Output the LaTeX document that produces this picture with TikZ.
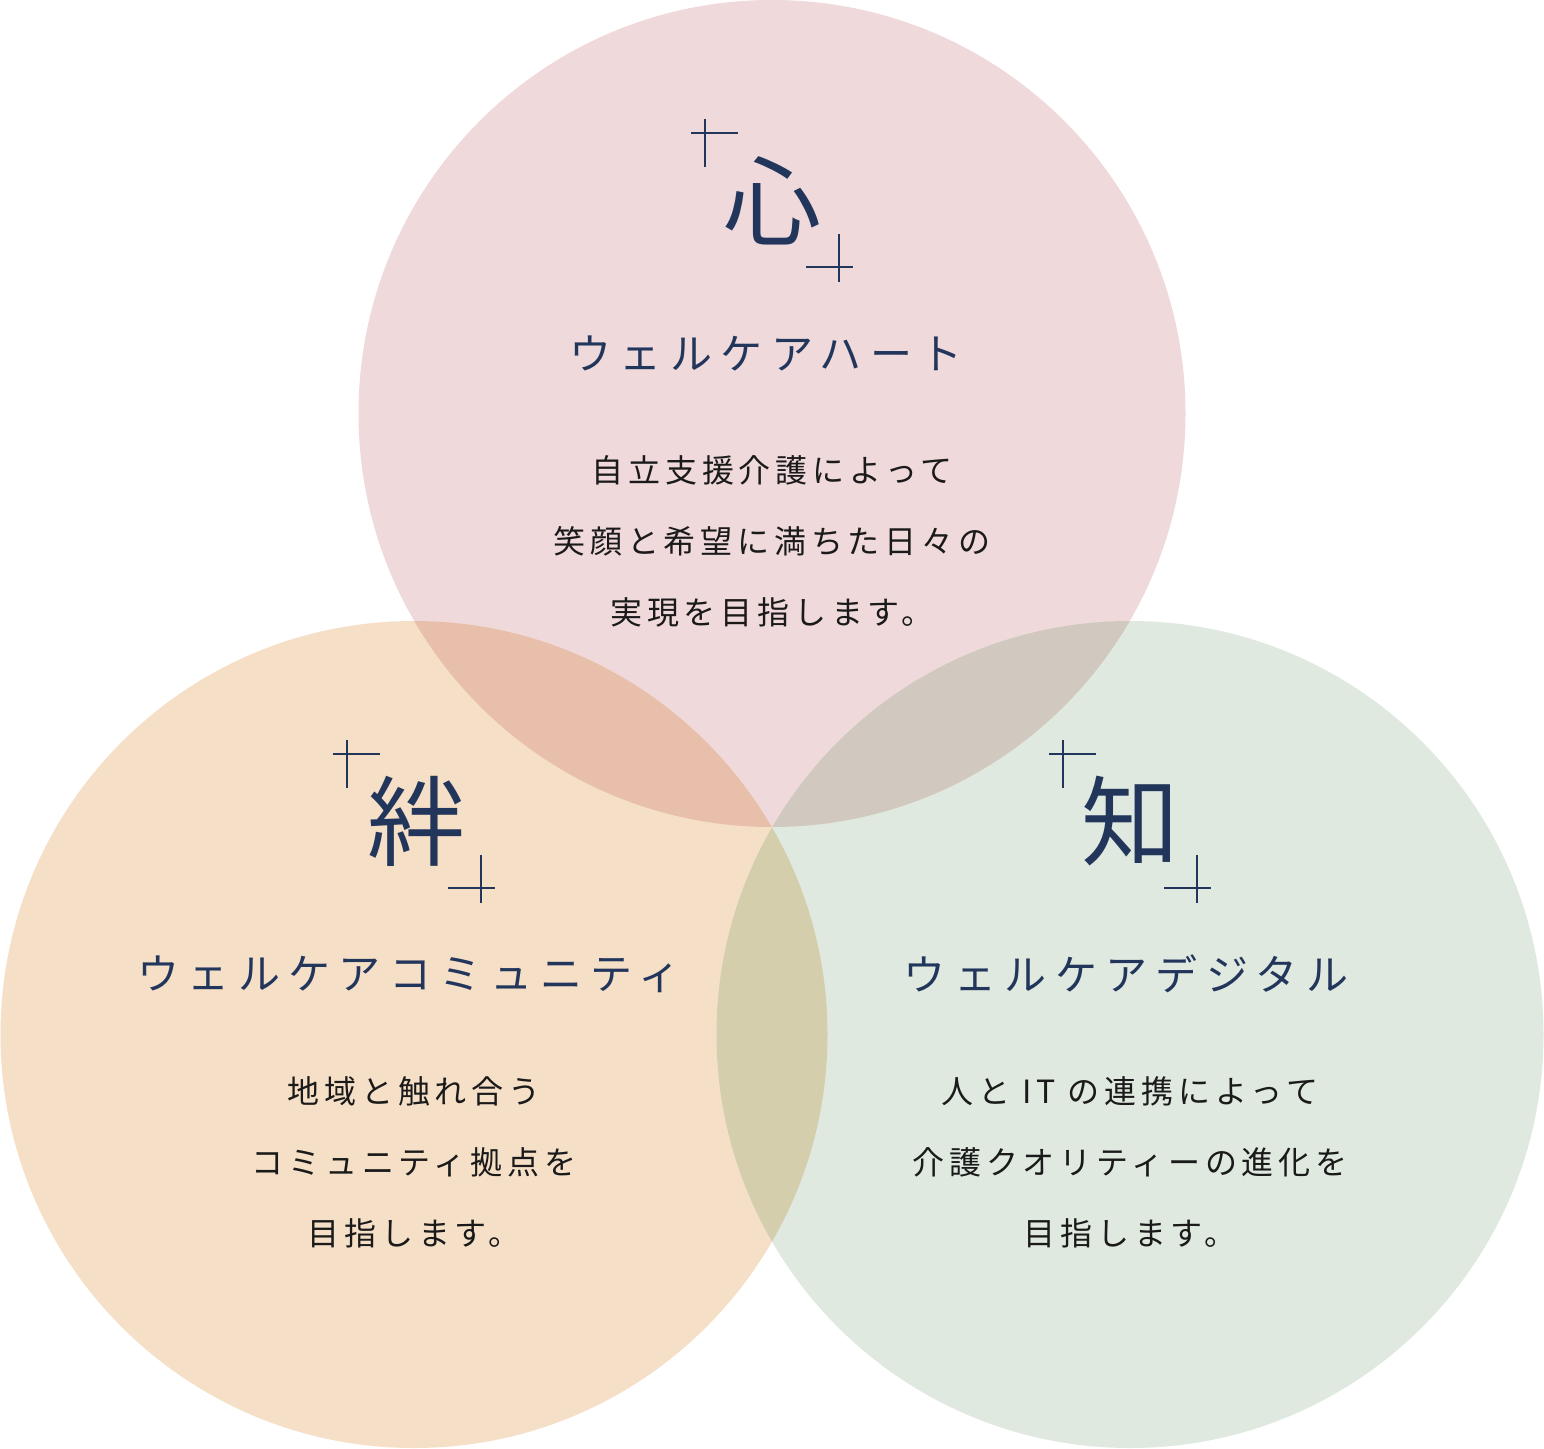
\documentclass[tikz,border=0pt]{standalone}
\usepackage{fontspec}
\newfontfamily\jpbody[LetterSpace=15]{Noto Sans CJK JP}
\newfontfamily\jptitle[LetterSpace=20]{Noto Sans CJK JP}
\newfontfamily\jpkanji{Noto Sans CJK JP}
\definecolor{pinkc}{HTML}{EFD9DB}
\definecolor{orangec}{HTML}{F6DFC7}
\definecolor{greenc}{HTML}{DFE9DF}
\definecolor{pinkorange}{HTML}{E8BFAB}
\definecolor{pinkgreen}{HTML}{D1C8BF}
\definecolor{orangegreen}{HTML}{D4CEAD}
\definecolor{navy}{HTML}{22365C}
\definecolor{bodyc}{HTML}{1A1A1A}
\tikzset{
  plusline/.style={draw=navy, line width=2pt},
  kanjitext/.style={text=navy, font=\jpkanji\fontsize{98}{100}\selectfont, inner sep=0pt},
  titletext/.style={text=navy, font=\jptitle\fontsize{42}{46}\selectfont, inner sep=0pt},
  bodytext/.style={text=bodyc, font=\jpbody\fontsize{32}{71}\selectfont, align=center, inner sep=0pt},
}
\begin{document}
\begin{tikzpicture}[x=1pt,y=-1pt]
\useasboundingbox (0,0) rectangle (1544,1448);
\fill[white] (0,0) rectangle (1544,1448);
\coordinate (ct) at (772,413.5);
\coordinate (cl) at (414,1034.5);
\coordinate (cr) at (1130,1034.5);
% circles
\fill[pinkc] (ct) circle[radius=413.5pt];
\fill[orangec] (cl) circle[radius=413.5pt];
\fill[greenc] (cr) circle[radius=413.5pt];
\begin{scope}
  \clip (ct) circle[radius=413.5pt];
  \fill[pinkorange] (cl) circle[radius=413.5pt];
  \fill[pinkgreen] (cr) circle[radius=413.5pt];
\end{scope}
\begin{scope}
  \clip (cl) circle[radius=413.5pt];
  \fill[orangegreen] (cr) circle[radius=413.5pt];
\end{scope}
% top block
\begin{scope}[shift={(ct)}]
  \draw[plusline] (-81,-280.5) -- (-34,-280.5) (-67,-294.5) -- (-67,-246.5);
  \draw[plusline] (34,-146.5) -- (81,-146.5) (67,-179.5) -- (67,-131.5);
  \node[kanjitext] (kt) at (0,-213) {心};
  \node[titletext] (tt) at (-6,-60.5) {ウェルケアハート};
  \node[bodytext] (bt) at (0,127.5) {自立支援介護によって\\笑顔と希望に満ちた日々の\\実現を目指します。};
\end{scope}
% bottom-left block
\begin{scope}[shift={(cl)}]
  \draw[plusline] (-81,-280.5) -- (-34,-280.5) (-67,-294.5) -- (-67,-246.5);
  \draw[plusline] (34,-146.5) -- (81,-146.5) (67,-179.5) -- (67,-131.5);
  \node[kanjitext] (kl) at (2,-213) {絆};
  \node[titletext] (tl) at (-5,-60.5) {ウェルケアコミュニティ};
  \node[bodytext] (bl) at (0,127.5) {地域と触れ合う\\コミュニティ拠点を\\目指します。};
\end{scope}
% bottom-right block
\begin{scope}[shift={(cr)}]
  \draw[plusline] (-81,-280.5) -- (-34,-280.5) (-67,-294.5) -- (-67,-246.5);
  \draw[plusline] (34,-146.5) -- (81,-146.5) (67,-179.5) -- (67,-131.5);
  \node[kanjitext] (kr) at (0,-213) {知};
  \node[titletext] (tr) at (-4,-60.5) {ウェルケアデジタル};
  \node[bodytext] (br) at (0,127.5) {人と IT の連携によって\\介護クオリティーの進化を\\目指します。};
\end{scope}
\end{tikzpicture}
\end{document}
